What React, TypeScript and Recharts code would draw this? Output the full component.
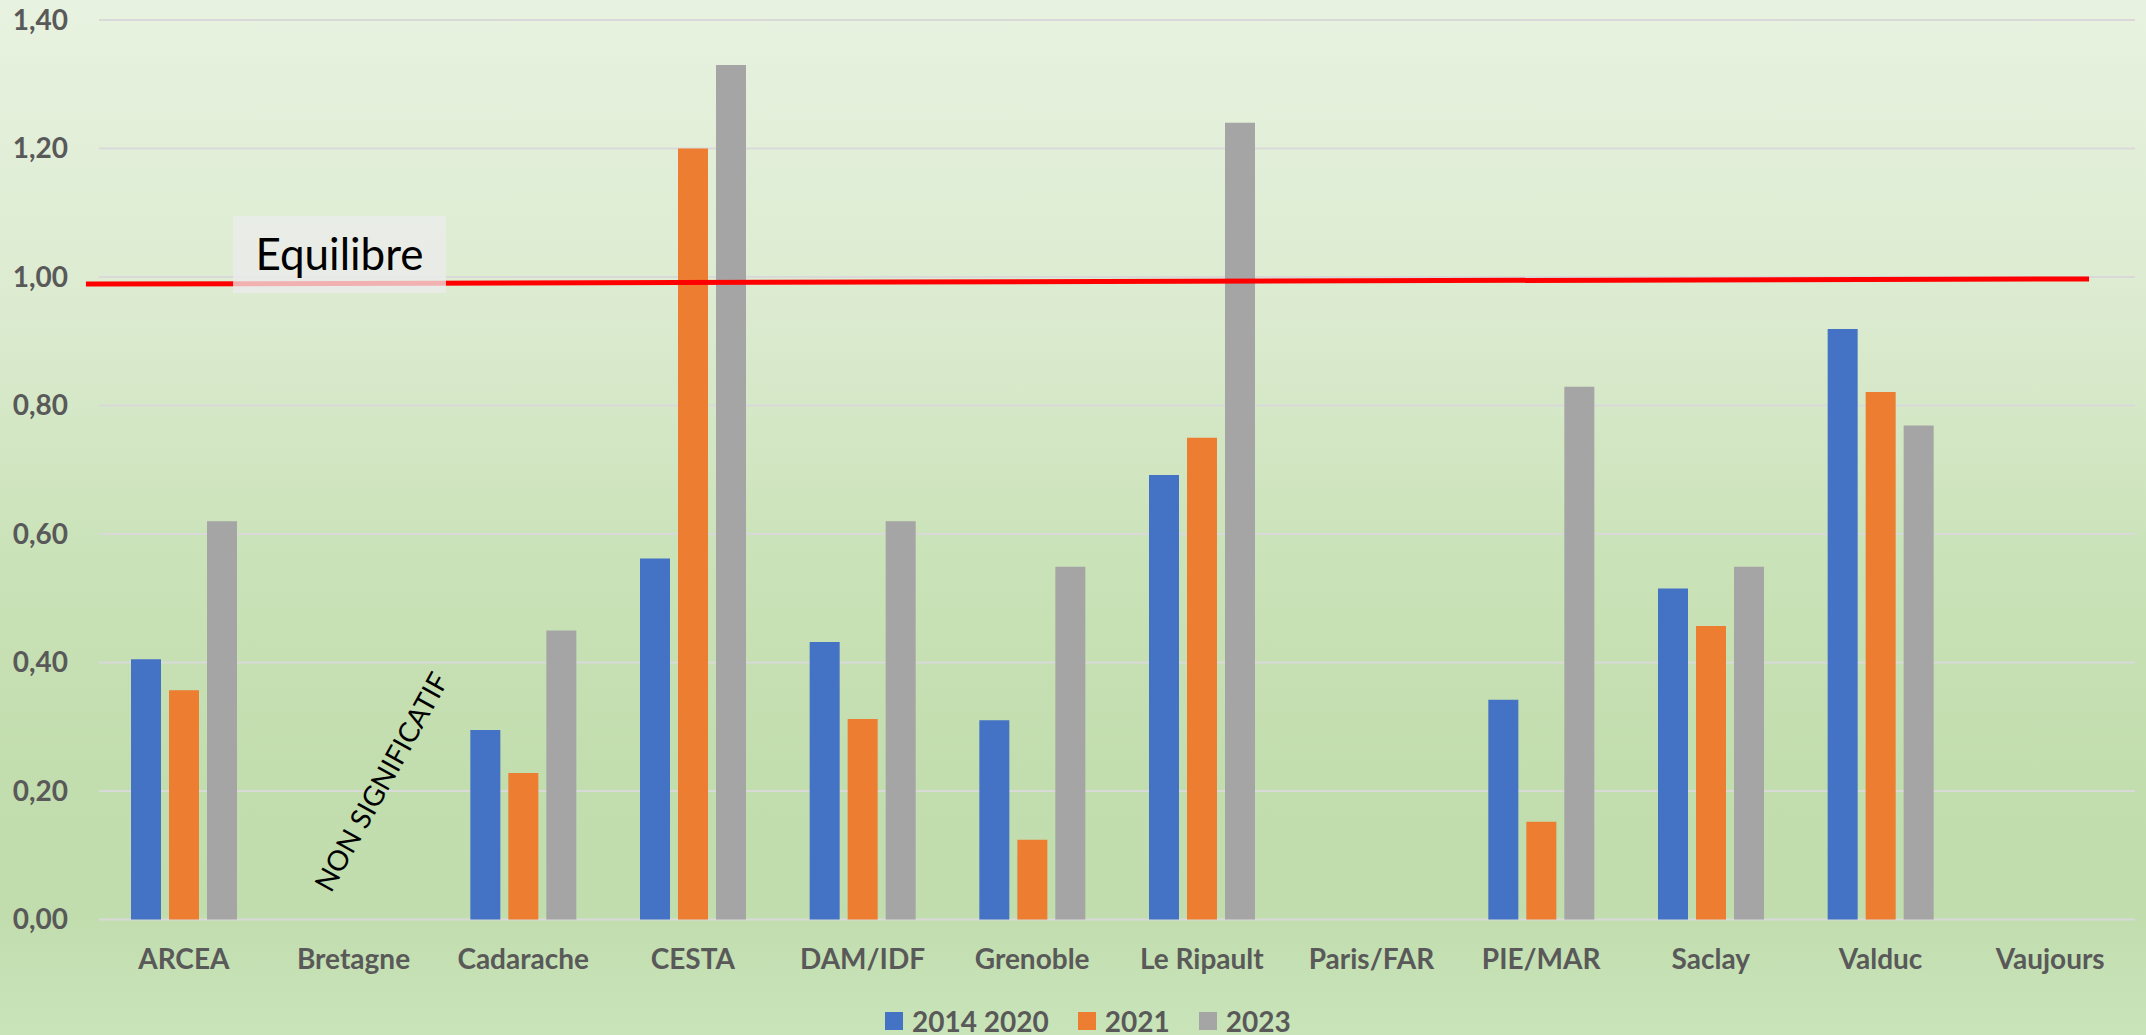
import React from 'react';
import { BarChart, Bar, XAxis, YAxis, CartesianGrid, ReferenceLine, ReferenceArea, ReferenceDot, Legend } from 'recharts';

const categories = ['ARCEA', 'Bretagne', 'Cadarache', 'CESTA', 'DAM/IDF', 'Grenoble', 'Le Ripault', 'Paris/FAR', 'PIE/MAR', 'Saclay', 'Valduc', 'Vaujours'];
const s2014_2020 = [0.405, null, 0.295, 0.562, 0.432, 0.31, 0.692, null, 0.342, 0.515, 0.919, null];
const s2021 = [0.357, null, 0.228, 1.2, 0.312, 0.124, 0.75, null, 0.152, 0.457, 0.821, null];
const s2023 = [0.62, null, 0.45, 1.33, 0.62, 0.549, 1.24, null, 0.829, 0.549, 0.769, null];
const yTicks = [0, 0.2, 0.4, 0.6, 0.8, 1.0, 1.2, 1.4];
const xTicks = categories.map((_, i) => i + 0.5);
const seriesKeys = ['a', 'b', 'c'];
const seriesNames = ['2014 2020', '2021', '2023'];
const seriesColors = ['#4472c4', '#ed7d31', '#a5a5a5'];
const equilibreLine = [{ x: -0.077, y: 0.989 }, { x: 11.729, y: 0.997 }];
const equilibreBox = { x1: 0.79, x2: 2.045, y1: 0.975, y2: 1.095 };
const nonSignificatif = { x: 1.66, y: 0.215 };

const data = categories.map((name, i) => ({ name, x: i + 0.5, a: s2014_2020[i], b: s2021[i], c: s2023[i] }));

const W = 2146;
const H = 1035;
const tickStyle = { fill: '#595959', fontSize: 28, fontWeight: 700, fontFamily: 'Lato' };

const LegendContent = () => (
  <div style={{ display: 'flex', alignItems: 'center', fontFamily: 'Lato', fontWeight: 700, fontSize: 28, lineHeight: '28px', color: '#595959' }}>
    {seriesNames.map((n, i) => (
      <div key={n} style={{ display: 'flex', alignItems: 'center', marginRight: i < seriesNames.length - 1 ? 29 : 0 }}>
        <div style={{ width: 18, height: 18, background: seriesColors[i], marginRight: 9 }} />
        <span>{n}</span>
      </div>
    ))}
  </div>
);

const NonSigShape = (props: any) => {
  const { cx, cy } = props;
  return (
    <text x={cx} y={cy} transform={`rotate(-61, ${cx}, ${cy})`} textAnchor="middle" dominantBaseline="central" fill="#000" fontSize={28} fontFamily="Lato">
      NON SIGNIFICATIF
    </text>
  );
};

export default function App() {
  return (
    <div style={{ position: 'absolute', left: 0, top: 0, width: W, height: H, background: 'linear-gradient(to bottom, #e8f2e0 0%, #dcebd0 30%, #c9e2b7 55%, #c2ddae 75%, #c1ddae 88%, #cae4ba 100%)' }}>
      <BarChart width={W} height={H} data={data} margin={{ top: 20, right: 11, left: 0, bottom: 85.5 }} barSize={30} barGap={8}>
        <CartesianGrid vertical={false} stroke="#d9d9d9" strokeWidth={2} />
        <XAxis dataKey="x" type="number" domain={[0, 12]} allowDataOverflow ticks={xTicks} interval={0}
          tickFormatter={(v: number) => categories[Math.floor(v)]}
          axisLine={false} tickLine={false} tickSize={0} tickMargin={30} height={30} tick={tickStyle} />
        <YAxis domain={[0, 1.4]} ticks={yTicks} axisLine={false} tickLine={false} tickSize={0} tickMargin={31} width={99} tick={tickStyle} tickFormatter={(v: number) => v.toFixed(2).replace('.', ',')} />
        {seriesKeys.map((k, i) => (
          <Bar key={k} dataKey={k} name={seriesNames[i]} fill={seriesColors[i]} isAnimationActive={false} />
        ))}
        <ReferenceLine segment={equilibreLine} stroke="#ff0000" strokeWidth={5} ifOverflow="visible" zIndex={450} />
        <ReferenceArea x1={equilibreBox.x1} x2={equilibreBox.x2} y1={equilibreBox.y1} y2={equilibreBox.y2} fill="#ececec" fillOpacity={0.75} stroke="none" ifOverflow="visible" zIndex={1500}
          label={{ value: 'Equilibre', position: 'center', fill: '#000', fontSize: 44, fontFamily: 'Lato' }} />
        <ReferenceDot x={nonSignificatif.x} y={nonSignificatif.y} r={1} ifOverflow="visible" shape={NonSigShape} zIndex={1600} />
        <Legend verticalAlign="middle" layout="horizontal" content={LegendContent} wrapperStyle={{ top: 1007, left: 885, width: 'auto' }} />
      </BarChart>
    </div>
  );
}
